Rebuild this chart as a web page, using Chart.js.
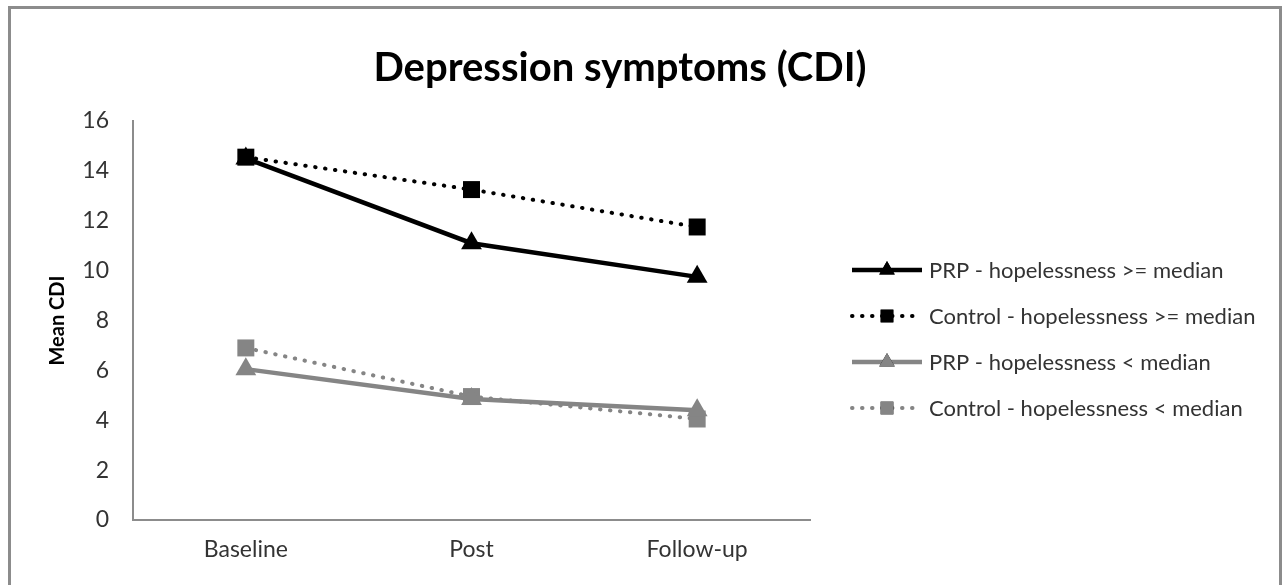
<!DOCTYPE html>
<html>
<head>
<meta charset="utf-8">
<script src="https://cdn.jsdelivr.net/npm/chart.js@4.4.0/dist/chart.umd.min.js"></script>
<style>
  body { margin: 0; background: #fff; }
  #wrap { position: relative; width: 1287px; height: 585px; overflow: hidden; }
  #frame { position: absolute; left: 8px; top: 6px; width: 1268px; height: 600px;
           border: 3px solid #8c8c8c; pointer-events: none; }
</style>
</head>
<body>
<div id="wrap">
  <canvas id="lineChart" width="1287" height="585"></canvas>
  <div id="frame"></div>
</div>
<script>
// data
var categories = ['Baseline', 'Post', 'Follow-up'];
var seriesNames = [
    'PRP - hopelessness >= median',
    'Control - hopelessness >= median',
    'PRP - hopelessness < median',
    'Control - hopelessness < median'
];
var prpHigh = [14.5, 11.1, 9.75];
var controlHigh = [14.55, 13.25, 11.75];
var prpLow = [6.05, 4.85, 4.4];
var controlLow = [6.9, 4.95, 4.05];
var yTicks = [0, 2, 4, 6, 8, 10, 12, 14, 16];

var chartTitle = 'Depression symptoms (CDI)';
var FONT = 'Lato, "Open Sans", sans-serif';

function makeSet(label, values, color, dotted, shape) {
    return {
        label: label,
        data: values,
        borderColor: color,
        backgroundColor: color,
        borderWidth: dotted ? 4 : 4.5,
        borderDash: dotted ? [0.5, 9.5] : [],
        borderCapStyle: dotted ? 'round' : 'butt',
        pointStyle: shape,
        pointRadius: 12,
        pointHoverRadius: 12,
        pointBorderWidth: 0,
        pointBackgroundColor: color,
        tension: 0,
        fill: false
    };
}

// title above the plot, legend with line + marker
var extras = {
    id: 'extras',
    afterDraw: function (chart) {
        var ctx = chart.ctx;
        ctx.save();
        ctx.fillStyle = '#000';
        ctx.font = 'bold 40px ' + FONT;
        ctx.textAlign = 'center';
        ctx.textBaseline = 'middle';
        ctx.fillText(chartTitle, 620, 68);
        ctx.restore();

        var x0 = 852, x1 = 922, tx = 929;
        var rows = [270, 316, 362, 408];
        chart.data.datasets.forEach(function (ds, i) {
            var y = rows[i];
            ctx.save();
            ctx.strokeStyle = ds.borderColor;
            ctx.lineWidth = ds.borderWidth;
            ctx.lineCap = ds.borderCapStyle;
            ctx.setLineDash(ds.borderDash);
            ctx.beginPath();
            ctx.moveTo(x0, y);
            ctx.lineTo(x1, y);
            ctx.stroke();
            ctx.setLineDash([]);
            Chart.helpers.drawPoint(ctx, {
                pointStyle: ds.pointStyle, radius: 9, borderWidth: 0
            }, (x0 + x1) / 2, y);
            ctx.fillStyle = ds.pointBackgroundColor;
            ctx.fill();
            ctx.fillStyle = '#333333';
            ctx.font = '22px ' + FONT;
            ctx.textBaseline = 'middle';
            ctx.fillText(ds.label, tx, y + 1);
            ctx.restore();
        });
    }
};

var ctx = document.getElementById('lineChart').getContext('2d');
var myChart = new Chart(ctx, {
    type: 'line',
    data: {
        labels: categories,
        datasets: [
            makeSet(seriesNames[0], prpHigh, '#000000', false, 'triangle'),
            makeSet(seriesNames[1], controlHigh, '#000000', true, 'rect'),
            makeSet(seriesNames[2], prpLow, '#858585', false, 'triangle'),
            makeSet(seriesNames[3], controlLow, '#858585', true, 'rect')
        ]
    },
    options: {
        responsive: false,
        animation: false,
        layout: { padding: { left: 0, right: 477, top: 121, bottom: 0 } },
        plugins: {
            legend: { display: false },
            tooltip: { enabled: false },
            title: { display: false }
        },
        scales: {
            x: {
                offset: true,
                grid: { display: false, drawTicks: false },
                border: { color: '#8c8c8c', width: 2 },
                ticks: { color: '#333333', font: { family: FONT, size: 23 }, padding: 16 },
                afterFit: function (scale) { scale.height = 65; }
            },
            y: {
                min: 0,
                max: 16,
                afterBuildTicks: function (scale) {
                    scale.ticks = yTicks.map(function (v) { return { value: v }; });
                },
                grid: { display: false, drawTicks: false },
                border: { color: '#8c8c8c', width: 2 },
                ticks: { color: '#333333', font: { family: FONT, size: 23 }, padding: 24 },
                title: {
                    display: true,
                    text: 'Mean CDI',
                    color: '#000',
                    font: { family: FONT, size: 20, weight: 'bold' },
                    padding: { top: 46, bottom: 0 }
                },
                afterFit: function (scale) { scale.width = 133; }
            }
        }
    },
    plugins: [extras]
});
</script>
</body>
</html>
